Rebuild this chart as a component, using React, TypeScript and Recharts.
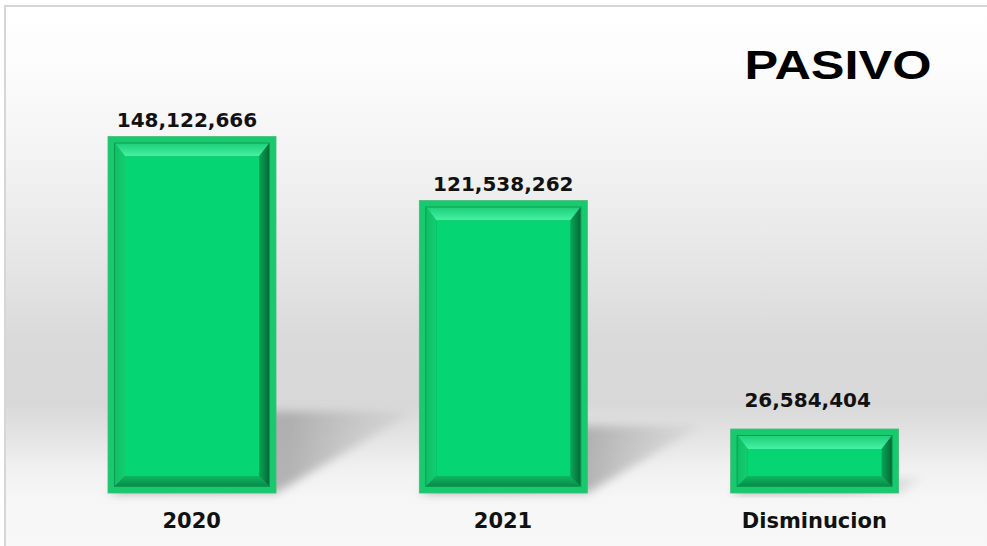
import React from 'react';
import { BarChart, Bar, XAxis, YAxis, LabelList, Customized } from 'recharts';

const categories = ['2020', '2021', 'Disminucion'];
const values = [148122666, 121538262, 26584404];
const title = 'PASIVO';
const yMax = 160000000;

const data = categories.map((c, i) => ({ name: c, value: values[i] }));

const LABEL_DX = [-5, 0, -7];
const LABEL_GAP = [10, 10, 22];

const fmt = (v: number) => v.toLocaleString('en-US');

function BevelBar(props: any) {
  const { x, y, width: w, height: h } = props;
  if (!w || !h) return null;
  const xR = x + w;
  const yB = y + h;
  const dx = h * 0.39;
  const dy = h * 0.23;
  const rim = 7;
  const b = 10;
  const ix = x + rim;
  const iy = y + rim;
  const iw = w - rim * 2;
  const ih = h - rim * 2;
  const bt = Math.min(b + 3, ih / 2);
  const bb = Math.min(b, ih / 2);
  return (
    <g>
      <polygon
        points={`${x},${yB} ${xR},${yB} ${xR + dx},${yB - dy} ${x + dx},${yB - dy}`}
        fill="url(#shadowGrad)"
        filter="url(#shadowBlur)"
      />
      <rect x={x} y={y} width={w} height={h} fill="#17ca6e" stroke="#45b97c" strokeWidth={0.8} />
      <rect x={ix - 1} y={iy - 1} width={iw + 2} height={ih + 2} fill="#0b9a52" />
      <polygon
        points={`${ix},${iy} ${ix + iw},${iy} ${ix + iw - b},${iy + bt} ${ix + b},${iy + bt}`}
        fill="url(#bevelTop)"
      />
      <polygon
        points={`${ix},${iy} ${ix + b},${iy + bt} ${ix + b},${iy + ih - bb} ${ix},${iy + ih}`}
        fill="url(#bevelLeft)"
      />
      <polygon
        points={`${ix + iw},${iy} ${ix + iw},${iy + ih} ${ix + iw - b},${iy + ih - bb} ${ix + iw - b},${iy + bt}`}
        fill="url(#bevelRight)"
      />
      <polygon
        points={`${ix},${iy + ih} ${ix + iw},${iy + ih} ${ix + iw - b},${iy + ih - bb} ${ix + b},${iy + ih - bb}`}
        fill="url(#bevelBottom)"
      />
      <rect x={ix + b} y={iy + bt} width={Math.max(0, iw - 2 * b)} height={Math.max(0, ih - bt - bb)} fill="#05d673" />
    </g>
  );
}

function ValueLabel(props: any) {
  const { x, y, width, value, index } = props;
  return (
    <text
      x={x + width / 2 + (LABEL_DX[index] || 0)}
      y={y - (LABEL_GAP[index] || 10)}
      textAnchor="middle"
      fontFamily="DejaVu Sans"
      fontWeight="bold"
      fontSize={20}
      fill="#111111"
    >
      {fmt(value)}
    </text>
  );
}

function CatTick(props: any) {
  const { x, payload } = props;
  return (
    <text x={x} y={528} textAnchor="middle" fontFamily="DejaVu Sans" fontWeight="bold" fontSize={21} fill="#111111">
      {payload.value}
    </text>
  );
}

function Title() {
  return (
    <text
      x={838}
      y={79}
      textAnchor="middle"
      fontFamily="Liberation Sans"
      fontWeight="bold"
      fontSize={40}
      fill="#000000"
      textLength={187}
      lengthAdjust="spacingAndGlyphs"
    >
      {title}
    </text>
  );
}

export default function App() {
  return (
    <div style={{ position: 'absolute', left: 0, top: 0, width: 987, height: 546, background: '#ffffff', overflow: 'hidden' }}>
      <div
        style={{
          position: 'absolute',
          left: 4,
          top: 5,
          width: 983,
          height: 541,
          borderTop: '2px solid #d6d6d6',
          borderLeft: '2px solid #d6d6d6',
          boxSizing: 'border-box',
          background:
            'linear-gradient(to bottom, #ffffff 0px, #fcfcfc 60px, #f2f2f2 160px, #e5e5e5 260px, #dadada 330px, #d8d8d8 395px, #e2e2e2 425px, #f0f0f0 460px, #f6f6f6 490px, #f8f8f8 541px)',
        }}
      />
      <div style={{ position: 'absolute', left: 0, top: 0 }}>
        <BarChart width={987} height={546} data={data} margin={{ top: 108, right: 17, bottom: 0, left: 36 }}>
          <defs>
            <filter id="shadowBlur" x="-30%" y="-30%" width="160%" height="160%">
              <feGaussianBlur stdDeviation="5" />
            </filter>
            <linearGradient id="shadowGrad" x1="0" y1="0" x2="1" y2="0">
              <stop offset="0%" stopColor="#9a9a9a" stopOpacity={0.9} />
              <stop offset="60%" stopColor="#a4a4a4" stopOpacity={0.8} />
              <stop offset="100%" stopColor="#b8b8b8" stopOpacity={0.2} />
            </linearGradient>
            <linearGradient id="bevelTop" x1="0" y1="0" x2="0" y2="1">
              <stop offset="0%" stopColor="#1fd07a" />
              <stop offset="100%" stopColor="#45f2a3" />
            </linearGradient>
            <linearGradient id="bevelLeft" x1="0" y1="0" x2="1" y2="0">
              <stop offset="0%" stopColor="#0fbf66" />
              <stop offset="100%" stopColor="#13cd70" />
            </linearGradient>
            <linearGradient id="bevelRight" x1="0" y1="0" x2="1" y2="0">
              <stop offset="0%" stopColor="#0aa556" />
              <stop offset="100%" stopColor="#066a38" />
            </linearGradient>
            <linearGradient id="bevelBottom" x1="0" y1="0" x2="0" y2="1">
              <stop offset="0%" stopColor="#0cb861" />
              <stop offset="100%" stopColor="#0a8a4a" />
            </linearGradient>
          </defs>
          <XAxis dataKey="name" axisLine={false} tickLine={false} height={53} tick={<CatTick />} interval={0} />
          <YAxis hide domain={[0, yMax]} />
          <Bar dataKey="value" barSize={168} shape={<BevelBar />} isAnimationActive={false}>
            <LabelList dataKey="value" content={<ValueLabel />} />
          </Bar>
          <Customized component={<Title />} />
        </BarChart>
      </div>
    </div>
  );
}
